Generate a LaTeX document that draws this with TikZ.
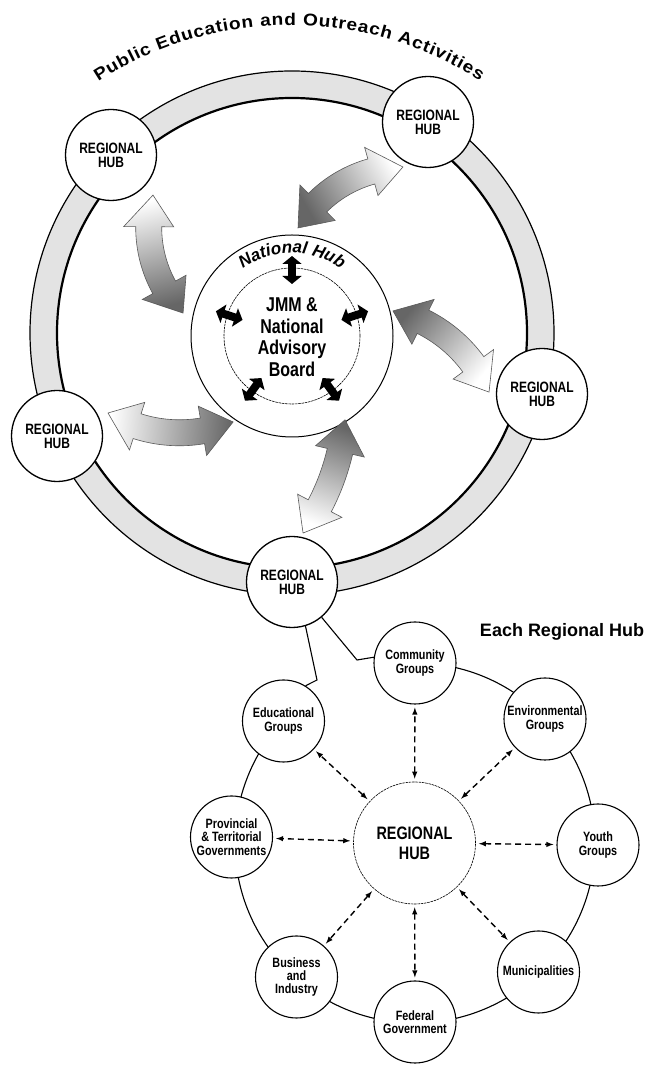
\documentclass[tikz,border=0pt]{standalone}
\usepackage{fontspec}
\setmainfont{Liberation Sans}
\newfontfamily\condfont{Liberation Sans}[FakeStretch=0.8]
\newfontfamily\widefont{Liberation Sans}[FakeStretch=1.12]
\usepackage{tikz}
\usetikzlibrary{arrows,arrows.meta,calc,positioning,decorations.text}

\tikzset{
  hub/.style={circle, draw, line width=1.3pt, fill=white, minimum size=91pt, inner sep=0pt, align=center,
    font=\condfont\bfseries\fontsize{15}{14}\selectfont},
  sat/.style={circle, draw, line width=1.1pt, fill=white, minimum size=82pt, inner sep=0pt, align=center,
    font=\condfont\bfseries\fontsize{13.5}{13.3}\selectfont},
  fineline/.style={line width=0.6pt, dash pattern=on 2.5pt off 0.8pt},
  link/.style={latex-latex, dash pattern=on 6pt off 4pt, line width=1.4pt, shorten <=3pt, shorten >=3pt},
  smallarr/.style={line width=8pt, {Triangle[length=8pt,width=19pt]}-{Triangle[length=8pt,width=19pt]}},
  gshade/.style={top color=white, bottom color=black!60, draw=black!65, line width=0.6pt}
}

% curved fat double arrow: centre x, centre y, radius, start angle, end angle, shading angle
\newcommand{\grayarrow}[6]{%
  \begin{scope}[shift={(#1,#2)}]
    \pgfmathsetmacro{\hd}{((#5>#4) ? 1 : -1)*32/#3*180/pi}
    \pgfmathsetmacro{\ga}{#4+\hd}
    \pgfmathsetmacro{\gb}{#5-\hd}
    \shade[gshade, shading angle=#6] (#4:#3) -- (\ga:{#3+25}) -- (\ga:{#3+13})
      arc[start angle=\ga, end angle=\gb, radius={#3+13}] -- (\gb:{#3+25}) -- (#5:#3)
      -- (\gb:{#3-25}) -- (\gb:{#3-13})
      arc[start angle=\gb, end angle=\ga, radius={#3-13}] -- (\ga:{#3-25}) -- cycle;
  \end{scope}}

\begin{document}
\begin{tikzpicture}[x=1pt,y=1pt]
\useasboundingbox (0,0) rectangle (654,1066);

% outer ring
\coordinate (ringc) at (292,733);
\fill[gray!22, even odd rule] (ringc) circle (262) (ringc) circle (235);
\draw[line width=1.2pt] (ringc) circle (262);
\draw[line width=2.2pt] (ringc) circle (235);

\coordinate (titc) at (290,689);
\path[decorate, decoration={text along path, text align={fit to path},
  text={|\widefont\bfseries\fontsize{17}{17}\selectfont|Public Education and Outreach Activities}}]
  ($(titc)+(123:352)$) arc[start angle=123, end angle=57.4, radius=352];

% national hub
\node[circle, draw, line width=1pt, fill=white, minimum size=202pt] (nat) at (292,730) {};
\node[circle, draw, fineline, minimum size=136pt] (natin) at (nat) {};
\node[align=center, font=\condfont\bfseries\fontsize{20}{21.5}\selectfont] (jmm) at (292,729) {JMM \&\\National\\Advisory\\Board};
\path[decorate, decoration={text along path, text align=center,
  text={|\bfseries\itshape\fontsize{17}{17}\selectfont|National Hub}}]
  ($(nat)+(140:83)$) arc[start angle=140, end angle=40, radius=83];
\begin{scope}[shift={(nat)}]
\foreach \a in {90,162,234,306,378}
  \draw[smallarr] (\a:52) -- (\a:80);
\end{scope}

% gray arrows
\grayarrow{272.7}{838.6}{124}{164.9}{223.7}{14.3}
\grayarrow{404.2}{776.0}{123}{90.6}{149.7}{-59.8}
\grayarrow{361.0}{619.8}{139}{22.9}{76.7}{-130.2}
\grayarrow{179.4}{771.8}{138.6}{239}{292.8}{85.9}
\grayarrow{115.0}{667.1}{231}{-35.5}{-5.2}{159.6}

% regional hubs
\node[hub] (hubtl) at (111,911) {REGIONAL\\HUB};
\node[hub] (hubtr) at (428,944) {REGIONAL\\HUB};
\node[hub] (hubr) at (542,672) {REGIONAL\\HUB};
\node[hub] (hubl) at (57,630) {REGIONAL\\HUB};
\node[hub] (bhub) at (292,484) {REGIONAL\\HUB};

% each regional hub
\node[font=\bfseries\fontsize{18}{18}\selectfont] (eachhub) at (562,434) {Each Regional Hub};
\coordinate (sring) at (415,223);
\draw[line width=1.1pt] ($(sring)+(90:180)$) arc[start angle=90, end angle=-222.9, radius=180];

\node[circle, draw, fineline, fill=white, minimum size=122pt, align=center,
  font=\condfont\bfseries\fontsize{18}{20}\selectfont] (rhub) at (414.5,223) {REGIONAL\\HUB};
\node[sat] (comm) at (415,403) {Community\\Groups};
\node[sat] (edu) at (283.5,345) {Educational\\Groups};
\node[sat] (env) at (545,347) {Environmental\\Groups};
\node[sat] (prov) at (231.5,229) {Provincial\\\& Territorial\\Governments};
\node[sat] (youth) at (598,221) {Youth\\Groups};
\node[sat] (bus) at (296.5,89) {Business\\and\\Industry};
\node[sat] (fed) at (415,44) {Federal\\Government};
\node[sat] (muni) at (538.5,94) {Municipalities};

\foreach \s in {comm,env,youth,muni,fed,bus,prov,edu}
  \draw[link] (rhub) -- (\s);

\coordinate (cl) at (317,386);
\coordinate (cr) at (357,406);
\draw[line width=1.1pt] (bhub.-73) -- (cl) -- (edu.58);
\draw[line width=1.1pt] (bhub.-50) -- (cr) -- (comm.172);
\end{tikzpicture}
\end{document}
